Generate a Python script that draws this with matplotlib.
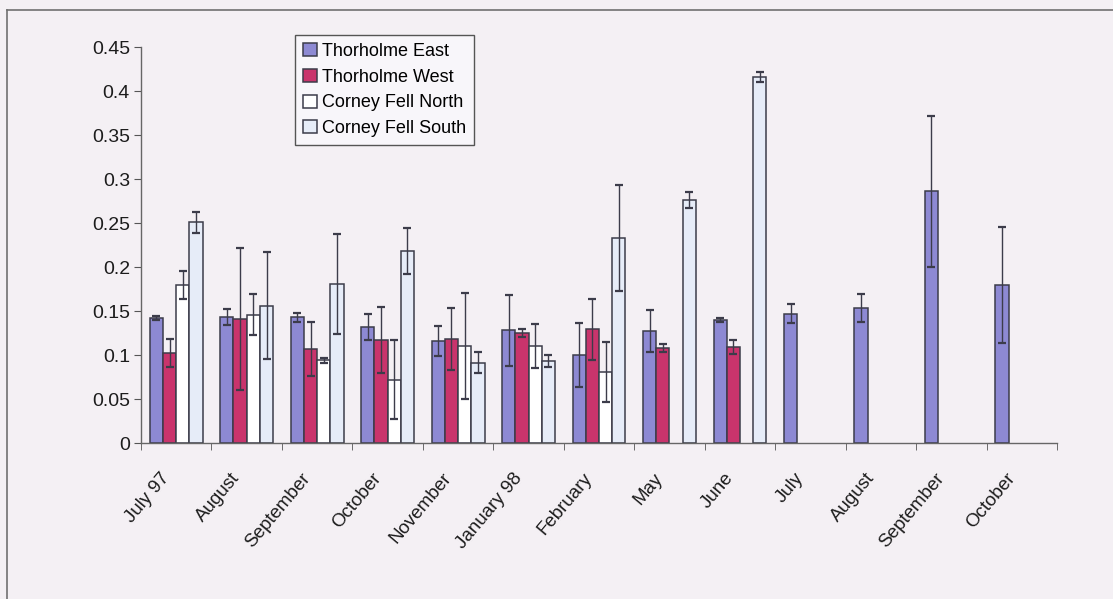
import matplotlib
matplotlib.use("Agg")
import matplotlib.pyplot as plt
import matplotlib.transforms as mtransforms
import numpy as np
from matplotlib.lines import Line2D

plt.rcParams["font.family"] = ["Liberation Sans", "DejaVu Sans"]

nan = np.nan
months = ["July 97", "August", "September", "October", "November", "January 98",
          "February", "May", "June", "July", "August", "September", "October"]
series = ["Thorholme East", "Thorholme West", "Corney Fell North", "Corney Fell South"]

east = [0.142, 0.143, 0.143, 0.132, 0.116, 0.128, 0.100, 0.127, 0.140, 0.147, 0.153, 0.286, 0.180]
east_err = [0.002, 0.009, 0.005, 0.015, 0.017, 0.040, 0.036, 0.024, 0.002, 0.011, 0.016, 0.086, 0.066]
west = [0.102, 0.141, 0.107, 0.117, 0.118, 0.125, 0.129, 0.108, 0.109, nan, nan, nan, nan]
west_err = [0.016, 0.081, 0.031, 0.037, 0.035, 0.004, 0.035, 0.005, 0.008, nan, nan, nan, nan]
north = [0.180, 0.146, 0.094, 0.072, 0.110, 0.110, 0.081, nan, nan, nan, nan, nan, nan]
north_err = [0.016, 0.023, 0.003, 0.045, 0.060, 0.025, 0.034, nan, nan, nan, nan, nan, nan]
south = [0.251, 0.156, 0.181, 0.218, 0.091, 0.093, 0.233, 0.276, 0.416, nan, nan, nan, nan]
south_err = [0.012, 0.061, 0.057, 0.026, 0.012, 0.007, 0.060, 0.009, 0.006, nan, nan, nan, nan]

values = [east, west, north, south]
errors = [east_err, west_err, north_err, south_err]
colors = ["#8d89d3", "#c9346c", "#ffffff", "#e6ecf8"]
bg = "#f4f0f4"
edge = "#3c3c4a"
txt = "#1c1c1c"

fig = plt.figure(figsize=(11.13, 5.99), dpi=100, facecolor=bg)
ax = fig.add_axes([141 / 1113, 1 - 443 / 599, 916 / 1113, 396 / 599])
ax.set_facecolor(bg)

# scanned chart frame (only top and left edges are in view)
fig.add_artist(Line2D([7 / 1113, 1], [1 - 10 / 599, 1 - 10 / 599], color="#707070", lw=1.2))
fig.add_artist(Line2D([7 / 1113, 7 / 1113], [0, 1 - 10 / 599], color="#707070", lw=1.2))

x = np.arange(len(months))
w = 0.75 / 4
for i, (vals, errs) in enumerate(zip(values, errors)):
    vals = np.array(vals, dtype=float)
    errs = np.array(errs, dtype=float)
    pos = x + (i - 1.5) * w
    # the later months only have Thorholme East, drawn in the first slot
    ok = ~np.isnan(vals)
    ax.bar(pos[ok], vals[ok], width=w, color=colors[i], edgecolor=edge,
           linewidth=1.1, label=series[i], zorder=2)
    ax.errorbar(pos[ok], vals[ok], yerr=errs[ok], fmt="none", ecolor=edge,
                elinewidth=1.0, capsize=3, capthick=1.6, zorder=3)

ax.set_xlim(-0.5, len(months) - 0.5)
ax.set_ylim(0, 0.45)
yt = np.arange(0, 0.451, 0.05)
ax.set_yticks(yt)
ax.set_yticklabels(["0", "0.05", "0.1", "0.15", "0.2", "0.25", "0.3", "0.35", "0.4", "0.45"],
                   fontsize=14, color=txt)
ax.set_xticks(np.arange(-0.5, len(months), 1), minor=True)
ax.tick_params(axis="x", which="major", length=0, pad=9)
ax.tick_params(axis="x", which="minor", length=5, color="#555555")
ax.tick_params(axis="y", length=5, color="#555555", pad=3)
ax.set_xticks(x)
ax.set_xticklabels(months, rotation=50, ha="right", rotation_mode="anchor",
                   fontsize=13.5, color=txt)
# nudge month labels left/down like the original layout (after tick_params)
shift = mtransforms.ScaledTranslation(-16 / 100, -14 / 100, fig.dpi_scale_trans)
for lab in ax.xaxis.get_majorticklabels():
    lab.set_transform(lab.get_transform() + shift)
for s in ["top", "right"]:
    ax.spines[s].set_visible(False)
for s in ["left", "bottom"]:
    ax.spines[s].set_color("#666666")
    ax.spines[s].set_linewidth(1.0)

leg = fig.legend(loc="upper left", bbox_to_anchor=(295 / 1113, 1 - 35 / 599),
                 fontsize=13, frameon=True, fancybox=False, framealpha=1,
                 facecolor="#f8f6fa", edgecolor="#555555",
                 handlelength=0.75, handleheight=0.75, handletextpad=0.3,
                 labelspacing=0.48, borderpad=0.45, borderaxespad=0)
leg.get_frame().set_linewidth(1.0)

fig.savefig("out.png", dpi=100, facecolor=bg)
